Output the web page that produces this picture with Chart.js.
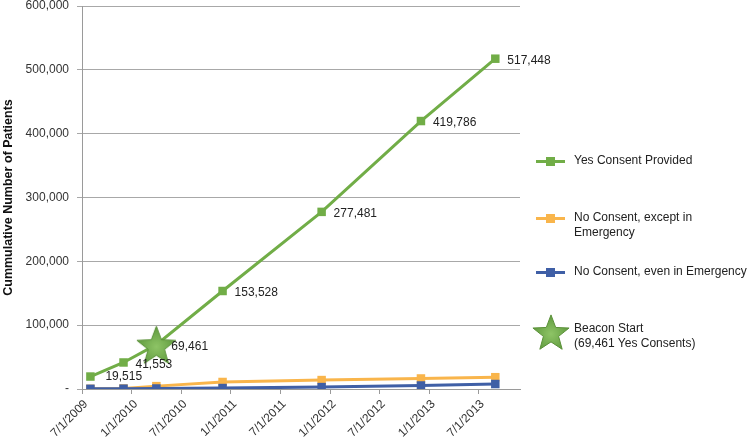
<!DOCTYPE html>
<html><head><meta charset="utf-8">
<script src="https://cdn.jsdelivr.net/npm/chart.js@4"></script>
<style>
html,body{margin:0;padding:0;background:#fff;}
#wrap{position:relative;width:756px;height:439px;overflow:hidden;}
#chart{position:absolute;left:0;top:0;}
.lg{position:absolute;font-family:"Liberation Sans",Arial,sans-serif;font-size:12px;line-height:15px;color:#222;white-space:nowrap;}
.sw{position:absolute;width:29px;height:3px;}
.sq{position:absolute;left:10px;top:-3px;width:9px;height:9px;}
</style>
</head><body>
<div id="wrap"><canvas id="chart" width="756" height="439"></canvas></div>
<script>
// ---- data ----
const pointDates = ['2009-08-01','2009-12-01','2010-04-01','2010-12-01','2011-12-01','2012-12-01','2013-09-01'];
const yesConsent = [19515, 41553, 69461, 153528, 277481, 419786, 517448];
const noConsentExceptEmergency = [300, 800, 4500, 11000, 14000, 16500, 18500];
const noConsentEvenEmergency = [300, 500, 800, 1500, 3000, 5500, 7800];
const tickDates = ['2009-07-01','2010-01-01','2010-07-01','2011-01-01','2011-07-01','2012-01-01','2012-07-01','2013-01-01','2013-07-01'];
const tickLabels = ['7/1/2009','1/1/2010','7/1/2010','1/1/2011','7/1/2011','1/1/2012','7/1/2012','1/1/2013','7/1/2013'];
const seriesNames = ['Yes Consent Provided','No Consent, except in Emergency','No Consent, even in Emergency'];
const beaconIndex = 2;
const beaconLabel = ['Beacon Start', '(69,461 Yes Consents)'];
const yTitle = 'Cummulative Number of Patients';

// ---- helpers ----
const FONT = '"Liberation Sans", Arial, sans-serif';
const GREEN = '#71ad47', ORANGE = '#f9b54b', BLUE = '#3f5fa6';
function dayNum(s){const p=s.split('-').map(Number);return Date.UTC(p[0],p[1]-1,p[2])/86400000;}
function makeStar(size){
  const c=document.createElement('canvas');c.width=c.height=size;
  const g=c.getContext('2d');const R=size/2-1,r=R*0.42,cx=size/2,cy=size/2+R*0.1;
  g.beginPath();
  for(let k=0;k<10;k++){const a=-Math.PI/2+k*Math.PI/5;const rad=k%2?r:R;g.lineTo(cx+rad*Math.cos(a),cy+rad*Math.sin(a));}
  g.closePath();
  const gr=g.createRadialGradient(cx,cy,0,cx,cy,R);gr.addColorStop(0,'#8ec466');gr.addColorStop(1,'#5f9a3e');
  g.fillStyle=gr;g.fill();g.strokeStyle='#5a9038';g.lineWidth=1;g.stroke();
  return c;
}
const star = makeStar(43);

function series(vals){return pointDates.map((d,i)=>({x:dayNum(d),y:vals[i]}));}

const labelPlugin = {
  id:'pointLabels',
  afterDatasetsDraw(chart){
    const meta=chart.getDatasetMeta(0);const c=chart.ctx;
    c.save();c.font='12px '+FONT;c.fillStyle='#222';c.textAlign='left';c.textBaseline='middle';
    meta.data.forEach((pt,i)=>{
      const dx=(i===0||i===beaconIndex)?15:12;const dy=i===0?0:2;
      c.fillText(yesConsent[i].toLocaleString('en-US'),pt.x+dx,pt.y+dy);
    });
    c.restore();
  }
};

new Chart(document.getElementById('chart'),{
  type:'line',
  data:{datasets:[
    {label:seriesNames[0],data:series(yesConsent),borderColor:GREEN,backgroundColor:GREEN,borderWidth:3,order:0,
     pointStyle:ctx=>ctx.dataIndex===beaconIndex?star:'rect',pointRadius:6,pointBorderWidth:0},
    {label:seriesNames[1],data:series(noConsentExceptEmergency),borderColor:ORANGE,backgroundColor:ORANGE,borderWidth:3,order:2,
     pointStyle:'rect',pointRadius:6,pointBorderWidth:0},
    {label:seriesNames[2],data:series(noConsentEvenEmergency),borderColor:BLUE,backgroundColor:BLUE,borderWidth:3,order:1,
     pointStyle:'rect',pointRadius:6,pointBorderWidth:0}
  ]},
  options:{
    responsive:false,animation:false,
    layout:{padding:{left:0,right:236,top:0,bottom:0}},
    plugins:{legend:{display:false},tooltip:{enabled:false}},
    scales:{
      x:{type:'linear',min:dayNum('2009-07-01'),max:dayNum('2013-12-01'),
         afterBuildTicks:s=>{s.ticks=tickDates.map(d=>({value:dayNum(d)}));},
         ticks:{callback:(v,i)=>tickLabels[i],minRotation:45,maxRotation:45,autoSkip:false,font:{family:FONT,size:12},color:'#333',padding:3,labelOffset:4},
         grid:{drawOnChartArea:false,tickLength:5,color:'#9a9a9a'},border:{color:'#9a9a9a'},
         afterFit:s=>{s.height=50;}},
      y:{min:0,max:600000,
         ticks:{stepSize:100000,callback:v=>v===0?'-':v.toLocaleString('en-US'),font:{family:FONT,size:12},color:'#333',padding:8},
         grid:{color:'#a8a8a8',tickLength:5},border:{color:'#9a9a9a'},
         title:{display:true,text:yTitle,font:{family:FONT,size:12.5,weight:'bold'},color:'#111',padding:1},
         afterFit:s=>{s.width=82;s.paddingTop=5;s.paddingBottom=0;}}
    }
  },
  plugins:[labelPlugin]
});

// ---- legend ----
const wrap=document.getElementById('wrap');
const colors=[GREEN,ORANGE,BLUE];
const legendRows=[{y:161,lines:[seriesNames[0]]},{y:218,lines:['No Consent, except in','Emergency']},{y:272,lines:[seriesNames[2]]}];
legendRows.forEach((r,i)=>{
  const sw=document.createElement('div');sw.className='sw';sw.style.left='536px';sw.style.top=(r.y-1)+'px';sw.style.background=colors[i];
  const sq=document.createElement('div');sq.className='sq';sq.style.background=colors[i];sw.appendChild(sq);
  wrap.appendChild(sw);
  const t=document.createElement('div');t.className='lg';t.style.left='574px';t.style.top=(r.y-8)+'px';
  t.innerHTML=r.lines.join('<br>');wrap.appendChild(t);
});
const ls=makeStar(40);ls.style.position='absolute';ls.style.left='531px';ls.style.top='312px';wrap.appendChild(ls);
const bt=document.createElement('div');bt.className='lg';bt.style.left='574px';bt.style.top='321px';bt.innerHTML=beaconLabel.join('<br>');wrap.appendChild(bt);
</script>
</body></html>
